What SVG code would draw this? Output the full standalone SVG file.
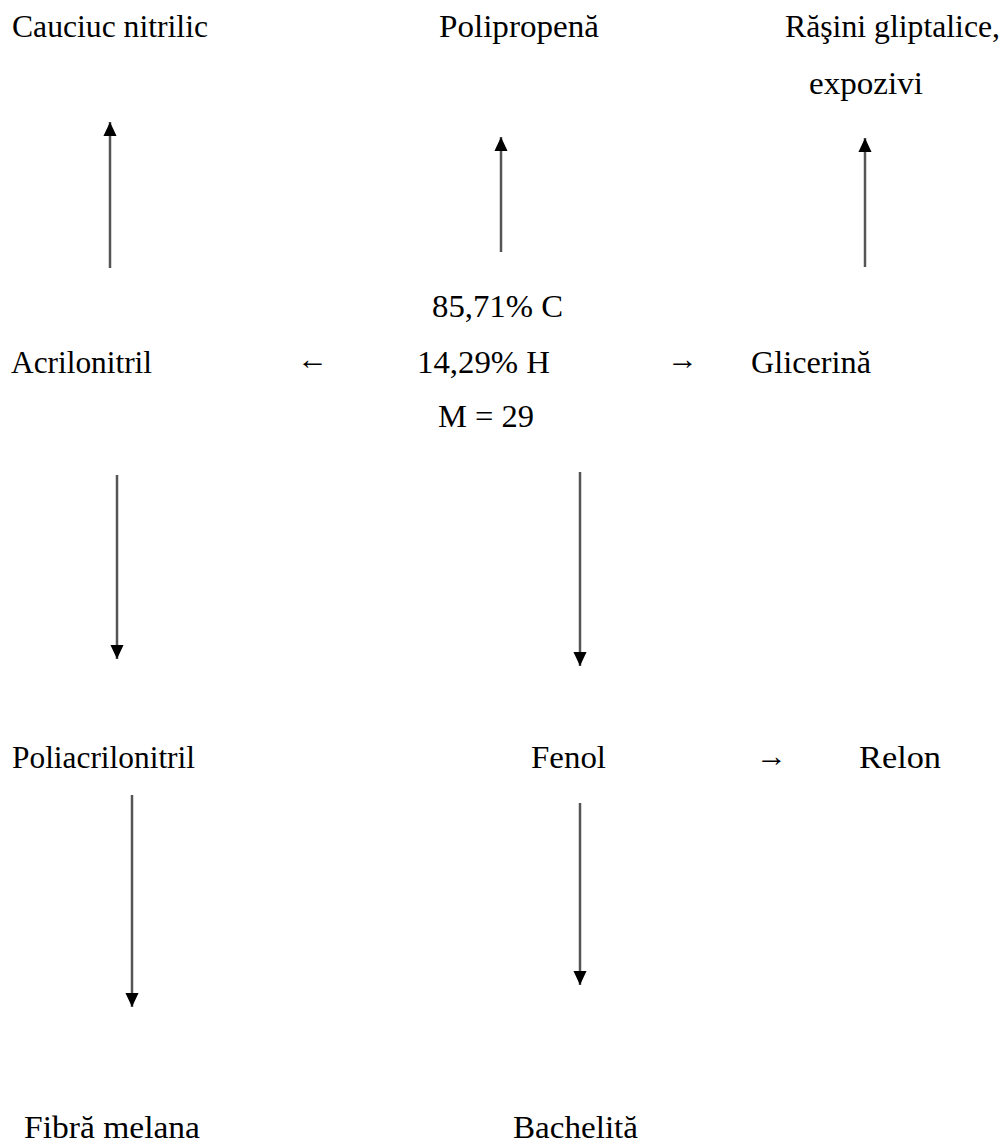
<svg xmlns="http://www.w3.org/2000/svg" width="1005" height="1144" viewBox="0 0 1005 1144">
<style>
text{font-family:"Liberation Serif","Times New Roman",serif;font-size:32px;fill:#000}
.conn line{stroke:#555;stroke-width:2.5}
.sym{font-family:"Liberation Serif","DejaVu Serif",serif;font-size:30px}
</style>
<defs>
<marker id="ah" markerUnits="userSpaceOnUse" markerWidth="14" markerHeight="16" refX="15" refY="7" orient="auto" viewBox="0 0 15 14">
<path d="M0,0 L15,7 L0,14 Z" fill="#000"/>
</marker>
</defs>
<rect width="1005" height="1144" fill="#fff"/>
<g id="connectors" class="conn">
<line x1="110" y1="268" x2="110" y2="122" marker-end="url(#ah)"/>
<line x1="501" y1="252" x2="501" y2="137" marker-end="url(#ah)"/>
<line x1="865" y1="267" x2="865" y2="138" marker-end="url(#ah)"/>
<line x1="117" y1="475" x2="117" y2="659" marker-end="url(#ah)"/>
<line x1="580" y1="472" x2="580" y2="666" marker-end="url(#ah)"/>
<line x1="132" y1="795" x2="132" y2="1007" marker-end="url(#ah)"/>
<line x1="580" y1="803" x2="580" y2="985" marker-end="url(#ah)"/>
</g>
<g id="n-cauciuc"><text x="12" y="37" textLength="196" lengthAdjust="spacingAndGlyphs">Cauciuc nitrilic</text></g>
<g id="n-polipropena"><text x="439" y="37" textLength="160" lengthAdjust="spacingAndGlyphs">Polipropenă</text></g>
<g id="n-rasini"><text x="785" y="37" textLength="215" lengthAdjust="spacingAndGlyphs">Răşini gliptalice,</text><text x="809" y="94" textLength="114" lengthAdjust="spacingAndGlyphs">expozivi</text></g>
<g id="n-center"><text x="432" y="317" textLength="131" lengthAdjust="spacingAndGlyphs">85,71% C</text><text x="417" y="373" textLength="133" lengthAdjust="spacingAndGlyphs">14,29% H</text><text x="438" y="427" textLength="96" lengthAdjust="spacingAndGlyphs">M = 29</text></g>
<g id="n-acrilonitril"><text x="11" y="373" textLength="141" lengthAdjust="spacingAndGlyphs">Acrilonitril</text></g>
<g id="arrow-left-text"><text class="sym" x="297" y="369" textLength="31" lengthAdjust="spacingAndGlyphs">←</text></g>
<g id="arrow-right-text"><text class="sym" x="667" y="369" textLength="31" lengthAdjust="spacingAndGlyphs">→</text></g>
<g id="n-glicerina"><text x="751" y="373" textLength="120" lengthAdjust="spacingAndGlyphs">Glicerină</text></g>
<g id="n-poliacrilonitril"><text x="12" y="768" textLength="183" lengthAdjust="spacingAndGlyphs">Poliacrilonitril</text></g>
<g id="n-fenol"><text x="531" y="768" textLength="75" lengthAdjust="spacingAndGlyphs">Fenol</text></g>
<g id="arrow-right-text2"><text class="sym" x="756" y="766" textLength="31" lengthAdjust="spacingAndGlyphs">→</text></g>
<g id="n-relon"><text x="859" y="768" textLength="82" lengthAdjust="spacingAndGlyphs">Relon</text></g>
<g id="n-fibra"><text x="24" y="1138" textLength="176" lengthAdjust="spacingAndGlyphs">Fibră melana</text></g>
<g id="n-bachelita"><text x="513" y="1138" textLength="125" lengthAdjust="spacingAndGlyphs">Bachelită</text></g>
</svg>
